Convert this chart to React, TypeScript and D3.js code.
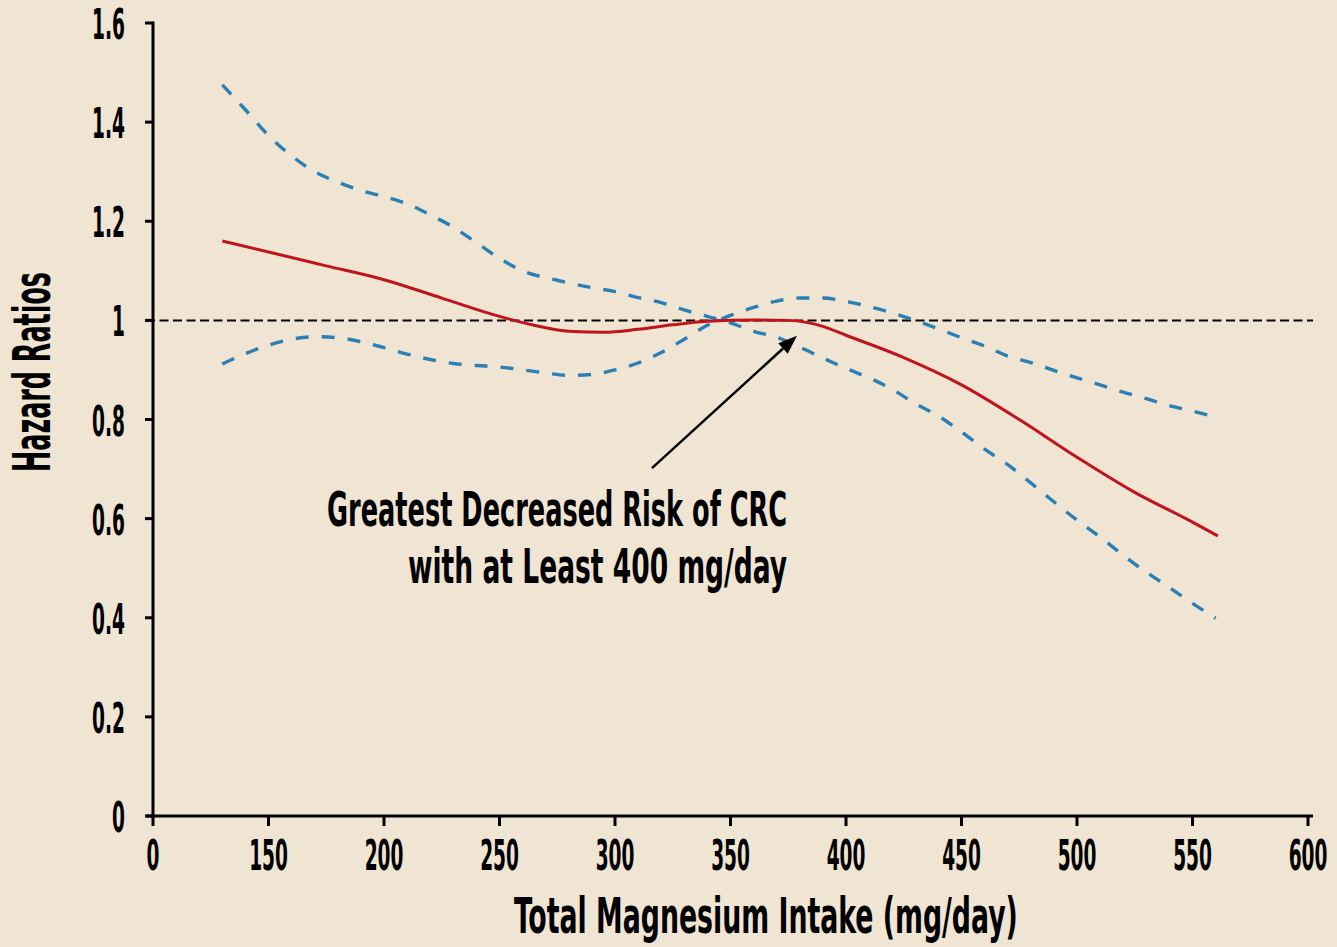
import React, { useLayoutEffect, useRef, useState } from "react";
import * as d3 from "d3";

// ---- data ----
const xTickValues = [100, 150, 200, 250, 300, 350, 400, 450, 500, 550, 600];
const xTickLabels = ["0", "150", "200", "250", "300", "350", "400", "450", "500", "550", "600"];
const yTickValues = [0, 0.2, 0.4, 0.6, 0.8, 1, 1.2, 1.4, 1.6];
const yTickLabels = ["0", "0.2", "0.4", "0.6", "0.8", "1", "1.2", "1.4", "1.6"];

const fitIntake = [130, 150, 175, 200, 225, 250, 265, 280, 295, 310, 325, 340, 360, 375, 390, 400, 425, 450, 475, 500, 525, 550, 561];
const fitHR = [1.16, 1.138, 1.11, 1.082, 1.045, 1.008, 0.99, 0.978, 0.976, 0.982, 0.991, 0.998, 1.001, 1.0, 0.988, 0.97, 0.925, 0.87, 0.8, 0.724, 0.653, 0.593, 0.565];

const ciAIntake = [130, 140, 150, 160, 170, 180, 190, 200, 210, 220, 230, 240, 250, 260, 275, 290, 300, 310, 320, 330, 340, 350, 360, 370, 380, 390, 400, 410, 420, 430, 440, 450, 460, 470, 480, 490, 500, 510, 520, 530, 540, 550, 560];
const ciAHR = [1.475, 1.425, 1.373, 1.332, 1.3, 1.279, 1.262, 1.25, 1.235, 1.213, 1.188, 1.157, 1.125, 1.1, 1.081, 1.066, 1.058, 1.046, 1.036, 1.021, 1.008, 0.995, 0.978, 0.966, 0.946, 0.924, 0.903, 0.884, 0.861, 0.832, 0.807, 0.775, 0.74, 0.709, 0.672, 0.634, 0.597, 0.563, 0.526, 0.492, 0.461, 0.429, 0.399];

const ciBIntake = [130, 140, 150, 160, 170, 180, 190, 200, 210, 220, 230, 240, 250, 260, 270, 280, 290, 300, 310, 320, 330, 340, 350, 360, 370, 380, 390, 400, 410, 420, 430, 440, 450, 460, 470, 480, 490, 500, 510, 520, 530, 540, 550, 560];
const ciBHR = [0.912, 0.933, 0.95, 0.962, 0.967, 0.965, 0.957, 0.945, 0.932, 0.921, 0.913, 0.909, 0.906, 0.9, 0.894, 0.889, 0.891, 0.9, 0.914, 0.935, 0.962, 0.99, 1.01, 1.026, 1.039, 1.045, 1.045, 1.038, 1.028, 1.015, 1.0, 0.983, 0.965, 0.948, 0.928, 0.915, 0.899, 0.884, 0.87, 0.855, 0.842, 0.828, 0.817, 0.805];

const referenceHR = 1;
const annotationLines = ["Greatest Decreased Risk of CRC", "with at Least 400 mg/day"];
const arrowFrom = { x: 316, y: 0.702 };
const arrowTo = { x: 378.8, y: 0.969 };
const xTitle = "Total Magnesium Intake (mg/day)";
const yTitle = "Hazard Ratios";

// ---- layout ----
const W = 1337;
const H = 947;
const FONT = "'DejaVu Sans Condensed', 'Liberation Sans Narrow', sans-serif";
const BG = "#f0e5d3";
const TICK_SCALE = 0.48;

// text squeezed horizontally (via transform) to a target width, starting at x
function FitText(props: {
  x: number;
  y: number;
  width: number;
  fontSize: number;
  rotate?: number;
  children: string;
}) {
  const ref = useRef<SVGTextElement>(null);
  const [scale, setScale] = useState(0.55);
  useLayoutEffect(() => {
    if (ref.current) {
      const n = ref.current.getComputedTextLength();
      if (n > 0) setScale(props.width / n);
    }
  }, [props.children, props.width, props.fontSize]);
  const rot = props.rotate ? ` rotate(${props.rotate})` : "";
  return (
    <text
      ref={ref}
      transform={`translate(${props.x},${props.y})${rot} scale(${scale},1)`}
      fontFamily={FONT}
      fontWeight="bold"
      fontSize={props.fontSize}
      fill="#000"
    >
      {props.children}
    </text>
  );
}

export default function App() {
  const x = d3.scaleLinear().domain([100, 600]).range([153, 1308]);
  const y = d3.scaleLinear().domain([0, 1.6]).range([816, 23]);

  const line = d3
    .line<[number, number]>()
    .x((d) => x(d[0]))
    .y((d) => y(d[1]))
    .curve(d3.curveMonotoneX);

  const fitPath = line(fitIntake.map((v, i) => [v, fitHR[i]] as [number, number])) || "";
  const ciAPath = line(ciAIntake.map((v, i) => [v, ciAHR[i]] as [number, number])) || "";
  const ciBPath = line(ciBIntake.map((v, i) => [v, ciBHR[i]] as [number, number])) || "";

  // arrow geometry
  const ax1 = x(arrowFrom.x), ay1 = y(arrowFrom.y);
  const ax2 = x(arrowTo.x), ay2 = y(arrowTo.y);
  const ang = Math.atan2(ay2 - ay1, ax2 - ax1);
  const headLen = 19, headW = 7;
  const bx = ax2 - headLen * Math.cos(ang), by = ay2 - headLen * Math.sin(ang);
  const px = -Math.sin(ang), py = Math.cos(ang);
  const head = `${ax2},${ay2} ${bx + px * headW},${by + py * headW} ${bx - px * headW},${by - py * headW}`;

  return (
    <svg
      width={W}
      height={H}
      viewBox={`0 0 ${W} ${H}`}
      style={{ position: "absolute", left: 0, top: 0, display: "block" }}
    >
      <rect x={0} y={0} width={W} height={H} fill={BG} />

      {/* reference line */}
      <line
        x1={146}
        x2={1313}
        y1={y(referenceHR)}
        y2={y(referenceHR)}
        stroke="#000"
        strokeWidth={2}
        strokeDasharray="9,4.5"
      />

      {/* CI curves */}
      <path d={ciAPath} fill="none" stroke="#2a7fb5" strokeWidth={3.4} strokeDasharray="13,13" />
      <path d={ciBPath} fill="none" stroke="#2a7fb5" strokeWidth={3.4} strokeDasharray="13,13" />
      {/* fit */}
      <path d={fitPath} fill="none" stroke="#c0141c" strokeWidth={3} />

      {/* axes */}
      <line x1={153} x2={153} y1={y(1.6) - 1.5} y2={817.5} stroke="#000" strokeWidth={3} />
      <line x1={146} x2={1313} y1={816} y2={816} stroke="#000" strokeWidth={3} />
      {yTickValues.map((v, i) => (
        <g key={"yt" + i}>
          <line x1={145} x2={153} y1={y(v)} y2={y(v)} stroke="#000" strokeWidth={3} />
          <text
            transform={`translate(125,${y(v) + 16}) scale(${TICK_SCALE},1)`}
            textAnchor="end"
            fontFamily={FONT}
            fontWeight="bold"
            fontSize={43}
            fill="#000"
          >
            {yTickLabels[i]}
          </text>
        </g>
      ))}
      {xTickValues.map((v, i) => (
        <g key={"xt" + i}>
          <line x1={x(v)} x2={x(v)} y1={816} y2={826} stroke="#000" strokeWidth={3} />
          <text
            transform={`translate(${x(v)},870) scale(${TICK_SCALE},1)`}
            textAnchor="middle"
            fontFamily={FONT}
            fontWeight="bold"
            fontSize={43}
            fill="#000"
          >
            {xTickLabels[i]}
          </text>
        </g>
      ))}

      {/* axis titles */}
      <FitText x={514} y={933} width={504} fontSize={50}>
        {xTitle}
      </FitText>
      <FitText x={50} y={472} width={200} fontSize={52} rotate={-90}>
        {yTitle}
      </FitText>

      {/* annotation */}
      <line x1={ax1} y1={ay1} x2={bx} y2={by} stroke="#000" strokeWidth={2.5} />
      <polygon points={head} fill="#000" />
      <FitText x={327} y={526} width={460} fontSize={48}>
        {annotationLines[0]}
      </FitText>
      <FitText x={408} y={583} width={379} fontSize={48}>
        {annotationLines[1]}
      </FitText>
    </svg>
  );
}
